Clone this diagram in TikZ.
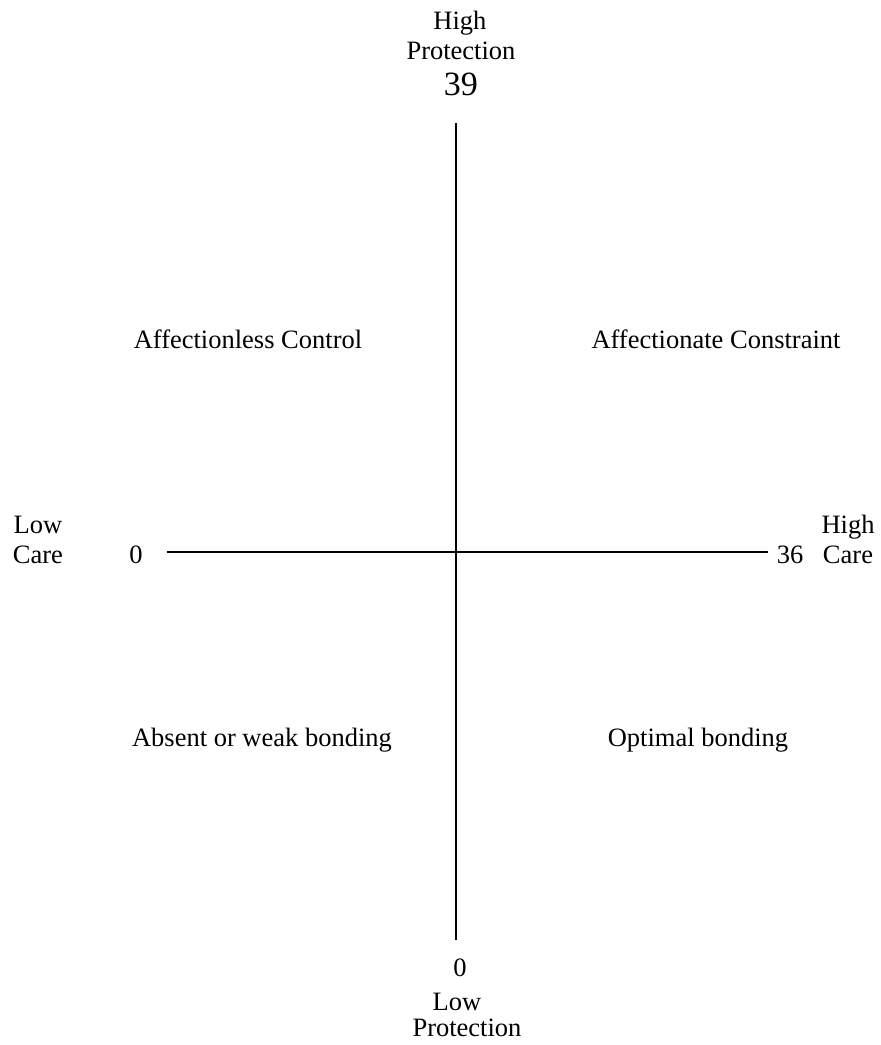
\documentclass[tikz,border=0pt]{standalone}
\usepackage{fontspec}
\setmainfont{Liberation Serif}
\usepackage{tikz}
\usetikzlibrary{positioning}

\begin{document}
\begin{tikzpicture}[
      x=0.5pt, y=0.5pt,
      lbl/.style={font=\fontsize{13.25}{15}\selectfont, inner sep=0pt, anchor=base},
      big/.style={font=\fontsize{17}{20}\selectfont, inner sep=0pt, anchor=base},
      asse/.style={line width=1pt}
    ]
    \useasboundingbox (-456,-493) rectangle (425,552);

    % Assi
    \coordinate (ptop) at (0,429);
    \coordinate (pbot) at (0,-388);
    \coordinate (cleft) at (-289,0);
    \coordinate (cright) at (312,0);
    \draw[asse] (ptop) -- (pbot);
    \draw[asse] (cleft) -- (cright);

    % Estremi: protezione
    \node[lbl] (hiprot1) at (4,522) {High};
    \node[lbl] (hiprot2) at (5,492) {Protection};
    \node[big] (hival) at (5,456) {39};
    \node[lbl] (loval) at (4,-424) {0};
    \node[lbl] (loprot1) at (1,-458) {Low};
    \node[lbl] (loprot2) at (11,-484) {Protection};

    % Estremi: cura
    \node[lbl] (locare1) at (-418,19) {Low};
    \node[lbl] (locare2) at (-418,-11) {Care};
    \node[lbl] (locval) at (-320,-11) {0};
    \node[lbl] (hicval) at (334,-11) {36};
    \node[lbl] (hicare1) at (392,19) {High};
    \node[lbl] (hicare2) at (392,-11) {Care};

    % Quadranti
    \node[lbl] (qcontrol) at (-208,204) {Affectionless Control};
    \node[lbl] (qconstr) at (260,204) {Affectionate Constraint};
    \node[lbl] (qweak) at (-194,-194) {Absent or weak bonding};
    \node[lbl] (qoptimal) at (242,-194) {Optimal bonding};
  \end{tikzpicture}
\end{document}
